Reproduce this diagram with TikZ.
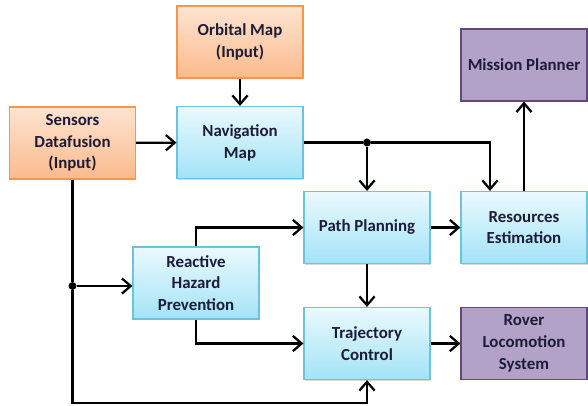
\documentclass[tikz,border=0pt]{standalone}
\usepackage{fontspec}
\setmainfont{Carlito}
\usetikzlibrary{
    positioning,
    arrows.meta,
    shadows
}

\definecolor{orgtop}{HTML}{FEE4D1}
\definecolor{orgbot}{HTML}{FBBA8C}
\definecolor{orgline}{HTML}{F79646}
\definecolor{blutop}{HTML}{EAF9FE}
\definecolor{blubot}{HTML}{A3E3F7}
\definecolor{bluline}{HTML}{6CC3DD}
\definecolor{purfill}{HTML}{B3A2C7}
\definecolor{purline}{HTML}{5F497A}
\definecolor{txtc}{HTML}{1C1C38}

\begin{document}
\begin{tikzpicture}[
    x=0.025cm, y=-0.025cm,
    font=\fontsize{12}{15.5}\selectfont\bfseries,
    box/.style={
        rectangle, line width=0.8pt, minimum width=3.15cm, minimum height=1.8cm,
        align=center, inner sep=2pt, text=txtc
    },
    inbox/.style={box, draw=orgline, top color=orgtop, bottom color=orgbot},
    fnbox/.style={
        box, draw=bluline, top color=blutop, bottom color=blubot,
        drop shadow={shadow xshift=0.5pt, shadow yshift=-0.9pt, opacity=0.3}
    },
    outbox/.style={box, draw=purline, fill=purfill},
    arr/.style={-{Straight Barb[length=2.2mm, width=3.8mm]}, line width=1.6pt},
    wire/.style={line width=1.6pt},
    junction/.style={circle, fill=black, inner sep=0pt, minimum size=2mm}
]
\useasboundingbox (0,0) rectangle (588,406);

% Inputs
\node[inbox] (orbital) at (240,42) {Orbital Map\\(Input)};
\node[inbox] (sensors) at (72.5,143) {Sensors\\Datafusion\\(Input)};

% Processing blocks
\node[fnbox] (navmap) at (240,142.5) {Navigation\\Map};
\node[fnbox] (pathplan) at (367,227.5) {Path Planning};
\node[fnbox] (resources) at (524,227.5) {Resources\\Estimation};
\node[fnbox] (hazard) at (196,283) {Reactive\\Hazard\\Prevention};
\node[fnbox] (trajectory) at (367,343.5) {Trajectory\\Control};

% Outputs
\node[outbox] (mission) at (524,65) {Mission Planner};
\node[outbox] (rover) at (524,343.5) {Rover\\Locomotion\\System};

% Junctions
\node[junction] (navsplit) at (pathplan.north |- navmap.east) {};
\node[junction] (sensplit) at (sensors.south |- 0,286) {};

% Arrows
\draw[arr] (orbital) -- (navmap);
\draw[arr] (sensors) -- (navmap);
\draw[wire] (navmap.east) -- (navsplit);
\draw[arr] (navsplit) -- (pathplan.north);
\draw[arr] (navsplit) -| ([xshift=-0.85cm]resources.north);
\draw[arr] (resources.north) -- (mission.south);

\draw[wire] (sensors.south) -- (sensplit);
\draw[arr] (sensplit) -- (hazard.west |- sensplit);
\draw[arr] (sensplit) -- ++(0,117) -| (trajectory.south);

\draw[arr] (hazard.north) |- (pathplan.west);
\draw[arr] (hazard.south) |- (trajectory.west);

\draw[arr] (pathplan) -- (resources);
\draw[arr] (pathplan) -- (trajectory);
\draw[arr] (trajectory) -- (rover);

\end{tikzpicture}
\end{document}
